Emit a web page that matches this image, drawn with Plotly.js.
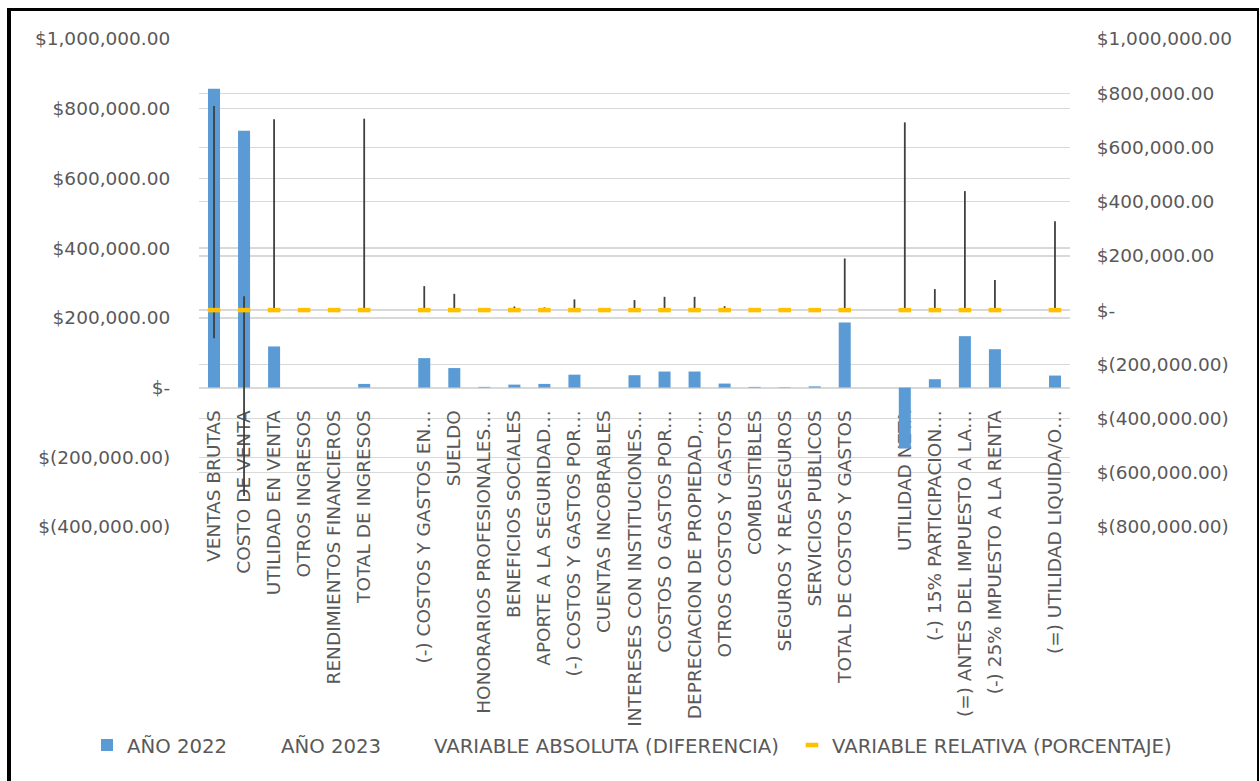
<!DOCTYPE html>
<html>
<head>
<meta charset="utf-8">
<script src="https://cdn.plot.ly/plotly-3.0.1.min.js"></script>
<style>
  html, body { margin: 0; padding: 0; background: #ffffff; overflow: hidden; }
  #chart { width: 1260px; height: 781px; }
  #frame { position: absolute; left: 7px; top: 8px; width: 1252px; height: 800px;
           box-sizing: border-box; border-left: 4px solid #000; border-top: 3px solid #000;
           border-right: 2px solid #000; pointer-events: none; }
</style>
</head>
<body>
<div id="chart"></div>
<div id="frame"></div>
<script>
// ---------- data ----------
const categories = [
  "VENTAS BRUTAS", "COSTO DE VENTA", "UTILIDAD EN VENTA", "OTROS INGRESOS",
  "RENDIMIENTOS FINANCIEROS", "TOTAL DE INGRESOS", "\u200b",
  "(-) COSTOS Y GASTOS EN…", "SUELDO", "HONORARIOS PROFESIONALES…",
  "BENEFICIOS SOCIALES", "APORTE A LA SEGURIDAD…", "(-) COSTOS Y GASTOS POR…",
  "CUENTAS INCOBRABLES", "INTERESES CON INSTITUCIONES…", "COSTOS O GASTOS POR…",
  "DEPRECIACION DE PROPIEDAD,…", "OTROS COSTOS Y GASTOS", "COMBUSTIBLES",
  "SEGUROS Y REASEGUROS", "SERVICIOS PUBLICOS", "TOTAL DE COSTOS Y GASTOS",
  "\u200b\u200b", "UTILIDAD NETA", "(-) 15% PARTICIPACION…",
  "(=) ANTES DEL IMPUESTO A LA…", "(-) 25% IMPUESTO A LA RENTA",
  "\u200b\u200b\u200b", "(=) UTILIDAD LIQUIDA/O…"
];

const anio2022 = [
  857000, 737000, 118000, 0, 0, 10500, null,
  84500, 56000, 2000, 8500, 10500, 37000, 0, 35500, 46000, 46000, 11500, 2000, 1000, 3500, 186500,
  null, -175000, 24000, 147500, 110000, null, 34500
];

const anio2023 = [
  753000, 51000, 704000, 0, 0, 706000, null,
  88500, 60000, 0, 13500, 10000, 39500, 0, 37000, 49000, 49000, 14500, 0, 0, 0, 190500,
  null, 517500, 77500, 439000, 110700, null, 328000
];

const varAbsoluta = [
  -104000, -686000, 586000, 0, 0, 695500, null,
  4000, 4000, -2000, 5000, -500, 2500, 0, 1500, 3000, 3000, 3000, -2000, -1000, -3500, 4000,
  null, 692500, 53500, 291500, 700, null, 293500
];

const varRelativa = [
  -0.12, -0.93, 4.97, 0, 0, 66.2, null,
  0.05, 0.07, -1.0, 0.59, -0.05, 0.07, 0, 0.04, 0.07, 0.07, 0.26, -1.0, -1.0, -1.0, 0.02,
  null, -3.96, 2.23, 1.98, 0.01, null, 8.51
];

const leftTickVals = [-400000, -200000, 0, 200000, 400000, 600000, 800000, 1000000];
const leftTickText = ["$(400,000.00)", "$(200,000.00)", "$-", "$200,000.00", "$400,000.00",
                      "$600,000.00", "$800,000.00", "$1,000,000.00"];
const rightTickVals = [-800000, -600000, -400000, -200000, 0, 200000, 400000, 600000, 800000, 1000000];
const rightTickText = ["$(800,000.00)", "$(600,000.00)", "$(400,000.00)", "$(200,000.00)", "$-",
                       "$200,000.00", "$400,000.00", "$600,000.00", "$800,000.00", "$1,000,000.00"];

// ---------- high-low lines built from the secondary-axis series ----------
const hlX = [], hlY = [];
categories.forEach((c, i) => {
  const vals = [anio2023[i], varAbsoluta[i], varRelativa[i]].filter(v => v !== null);
  if (!vals.length) return;
  hlX.push(c, c, null);
  hlY.push(Math.min(...vals), Math.max(...vals), null);
});

const FONT = "DejaVu Sans, sans-serif";
const GREY = "#595959";
const GRID = "#D9D9D9";

const traces = [
  {
    type: "bar", name: "AÑO 2022", x: categories, y: anio2022,
    marker: { color: "#5B9BD5" }, yaxis: "y", hoverinfo: "skip", legend: "legend"
  },
  {
    type: "scatter", mode: "none", name: "AÑO 2023", x: categories, y: anio2023,
    yaxis: "y2", hoverinfo: "skip", legend: "legend2"
  },
  {
    type: "scatter", mode: "none", name: "VARIABLE ABSOLUTA (DIFERENCIA)", x: categories, y: varAbsoluta,
    yaxis: "y2", hoverinfo: "skip", legend: "legend3"
  },
  {
    type: "scatter", mode: "lines", x: hlX, y: hlY, yaxis: "y2", showlegend: false,
    line: { color: "#404040", width: 1.8 }, connectgaps: false, hoverinfo: "skip"
  },
  {
    type: "scatter", mode: "markers", name: "VARIABLE RELATIVA (PORCENTAJE)", x: categories, y: varRelativa,
    yaxis: "y2", hoverinfo: "skip", legend: "legend4",
    marker: { symbol: "line-ew", size: 9, color: "#FFC000", line: { color: "#FFC000", width: 4.5 } }
  }
];

function legendAt(x) {
  return {
    orientation: "h", x: x, xanchor: "left", y: -0.447, yanchor: "middle",
    font: { family: FONT, size: 19.7, color: GREY }, itemwidth: 30, bgcolor: "rgba(0,0,0,0)"
  };
}

const layout = {
  width: 1260, height: 781,
  margin: { l: 199, r: 190, t: 39, b: 254, pad: 0 },
  paper_bgcolor: "#ffffff", plot_bgcolor: "#ffffff",
  font: { family: FONT, color: GREY, size: 19 },
  showlegend: true,
  barmode: "group", bargap: 0.6,
  xaxis: {
    type: "category", categoryorder: "array", categoryarray: categories,
    range: [-0.5, categories.length - 0.5], autorange: false,
    anchor: "free", position: 400000 / 1400000,
    showgrid: false, zeroline: false,
    showline: true, linecolor: GRID, linewidth: 1.3,
    ticks: "outside", ticklen: 14, tickcolor: "rgba(0,0,0,0)",
    tickangle: -90, tickfont: { family: FONT, size: 18.5, color: GREY },
    layer: "below traces", fixedrange: true
  },
  yaxis: {
    range: [-400000, 1000000], tickmode: "array", tickvals: leftTickVals, ticktext: leftTickText,
    showgrid: true, gridcolor: GRID, gridwidth: 1.3, zeroline: false, showline: false,
    ticks: "outside", ticklen: 24, tickcolor: "rgba(0,0,0,0)",
    tickfont: { family: FONT, size: 18.5, color: GREY }, fixedrange: true
  },
  yaxis2: {
    overlaying: "y", side: "right",
    range: [-800000, 1000000], tickmode: "array", tickvals: rightTickVals, ticktext: rightTickText,
    showgrid: true, gridcolor: GRID, gridwidth: 1.3, zeroline: false, showline: false,
    ticks: "outside", ticklen: 22, tickcolor: "rgba(0,0,0,0)",
    tickfont: { family: FONT, size: 18.5, color: GREY }, fixedrange: true
  },
  legend: legendAt(-0.1286),
  legend2: legendAt(0.0482),
  legend3: legendAt(0.2239),
  legend4: legendAt(0.6808)
};

Plotly.newPlot("chart", traces, layout, { displayModeBar: false, staticPlot: true });
</script>
</body>
</html>
